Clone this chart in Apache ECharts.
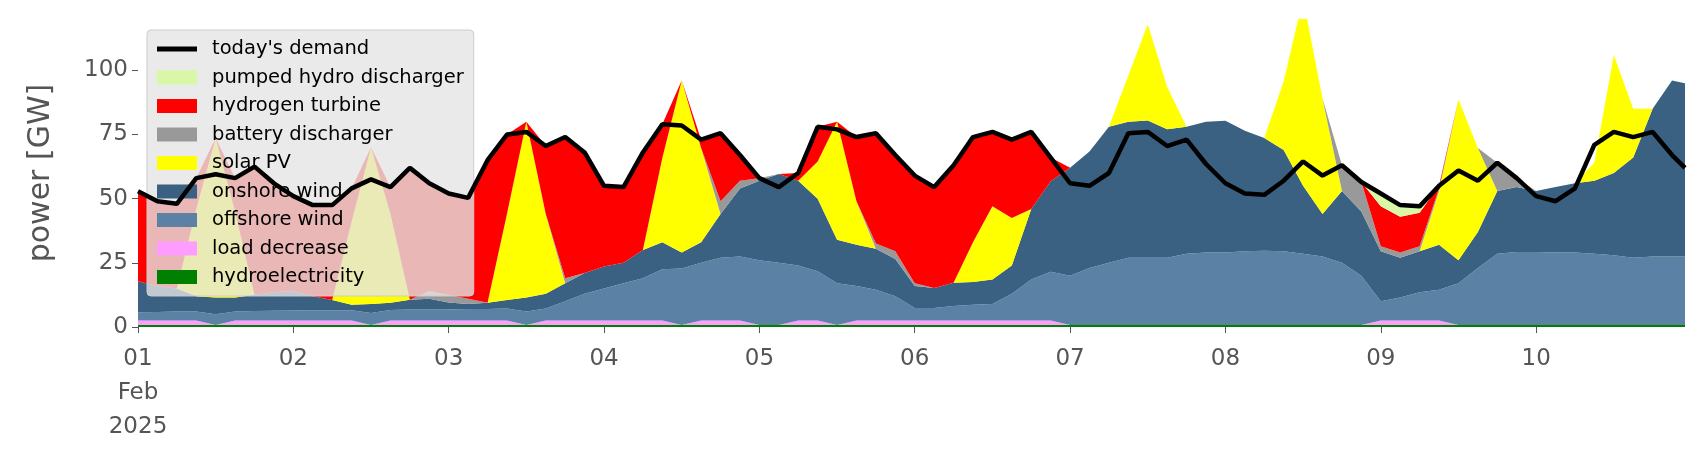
<!DOCTYPE html>
<html>
<head>
<meta charset="utf-8">
<script src="https://cdn.jsdelivr.net/npm/echarts@6/dist/echarts.min.js"></script>
<style>
  html, body { margin: 0; padding: 0; background: #fff; }
  #chart { width: 1706px; height: 460px; }
</style>
</head>
<body>
<div id="chart"></div>
<script>
// hourly category axis from 01 Feb 2025 00:00; data sampled every 3 h, last sample at 10 Feb 23:00
const hourCategories = [];
for (let h = 0; h < 240; h++) hourCategories.push(String(h));
const sampleHours = [];
for (let i = 0; i < 80; i++) sampleHours.push(i * 3);
sampleHours.push(239);

const dayLabels = ['01\nFeb\n2025', '02', '03', '04', '05', '06', '07', '08', '09', '10'];

// GW per technology
const hydro = [
  0.8,0.8,0.8,0.8,0.8,0.8,0.8,0.8, 0.8,0.8,0.8,0.8,0.8,0.8,0.8,0.8,
  0.8,0.8,0.8,0.8,0.8,0.8,0.8,0.8, 0.8,0.8,0.8,0.8,0.8,0.8,0.8,0.8,
  0.8,0.8,0.8,0.8,0.8,0.8,0.8,0.8, 0.8,0.8,0.8,0.8,0.8,0.8,0.8,0.8,
  0.8,0.8,0.8,0.8,0.8,0.8,0.8,0.8, 0.8,0.8,0.8,0.8,0.8,0.8,0.8,0.8,
  0.8,0.8,0.8,0.8,0.8,0.8,0.8,0.8, 0.8,0.8,0.8,0.8,0.8,0.8,0.8,0.8, 0.8
];
const loadDecrease = [
  1.7,1.7,1.7,1.7,0,1.7,1.7,1.7, 1.7,1.7,1.7,1.7,0,1.7,1.7,1.7,
  1.7,1.7,1.7,1.7,0,1.7,1.7,1.7, 1.7,1.7,1.7,1.7,0,1.7,1.7,1.7,
  0,0,1.7,1.7,0,1.7,1.7,1.7, 1.7,1.7,1.7,1.7,1.7,1.7,1.7,1.7,
  0,0,0,0,0,0,0,0, 0,0,0,0,0,0,0,0,
  1.7,1.7,1.7,1.7,0,0,0,0, 0,0,0,0,0,0,0,0, 0
];
const offshore = [
  3.2,3.3,3.5,3.5,4.2,3.5,3.7,3.8, 3.9,4.0,4.0,4.0,4.7,4.1,4.3,4.3,
  4.3,4.5,4.5,4.7,5.2,4.7,7.5,10.5, 12.5,14.5,16.5,20,22,22.5,24.5,25,
  25.2,24.2,21.5,19.2,16.2,13.5,12,9.5, 4.9,4.9,5.7,6.2,6.5,10.5,16,19,
  19.2,22.2,24.2,26.2,26.2,26.2,27.7,28.2, 28.2,28.7,28.9,28.7,27.7,26.7,24.2,19.2,
  7.5,9,11,12,16.2,22.2,27.7,28.4, 28.4,28.2,28.2,27.7,27.2,26.2,26.7,26.7, 26.7
];
const onshore = [
  12.1,10.2,9,6,6.5,5.5,6.4,7.2, 7.6,5.5,4,2.2,3.5,2.8,3.8,4.2,
  2.7,2,2.4,3.3,5.5,5.8,7,8, 8.6,8,11,10.5,6.2,8,17,26.5,
  31,34.6,33,28.3,17,16,16,14.5, 8.6,7.8,9,8.8,9.5,11,27.5,35.3,
  42,45.4,53,53,53.5,50,49.5,51, 51.4,47,43.9,39.5,26.5,16.5,28,25,
  19.5,15.5,16,17.5,9,14,24.5,25.3, 23.8,25.5,27,28.5,32,39,57.5,68.5, 67.5
];
const solar = [
  0,0,0,34,62.1,33.5,0,0, 0,0,0,32.3,61,34.6,0,0,
  0,0,0,33.5,68.5,31,0,0, 0,0,0,32.8,67,36.7,0,0,
  0,0,0,14.5,46,17,0,0, 0,0,0,15.5,28.5,18.5,0,0,
  0,0,0,18,37.5,16.5,0,0, 0,0,0,26.7,73,45,0,0,
  0,0,0,21,62.6,32.7,0,0, 0,0,0,7,46,19,0,0, 0
];
const battery = [
  0,0,0,0,0,0,0,0, 0,0,0,0,0,0,0,3,
  3,2,0,0,0,0,2,0, 0,0,0,0,0,0,5,3,
  1,0,0,0,0,0,2,3, 1,0,0,0,0,0,0,0,
  0,0,0,0,0,0,0,0, 0,0,0,0,0,0,10,11.5,
  2,2,2,1,0,0,11,3.5, 0,0,0,0,0,0,0,0, 0
];
const hydrogen = [
  35.1,33,33,12,0,13,49.9,42.5, 37,35.5,37,13,0,10.5,51.4,42,
  39.5,39.3,55.6,31,0,26.5,55,47, 31.4,29.5,38,13.2,0,3.3,26.5,10,
  0,0,3,13.5,0,25,43,37.5, 42,39.3,45.8,41,29,30.5,30,9.2,
  0,0,0,0,0,0,0,0, 0,0,0,0,0,0,0,0,
  15.5,14,13,1,0,0,0,0, 0,0,0,0,0,0,0,0, 0
];
const pumpedHydro = [
  0,0,0,0,0,0,0,0, 0,0,0,0,0,0,0,0,
  0,0,0,0,0,0,0,0, 0,0,0,0,0,0,0,0,
  0,0,0,0,0,0,0,0, 0,0,0,0,0,0,0,0,
  0,0,0,0,0,0,0,0, 0,0,0,0,0,0,0,0,
  5,4.5,2.5,0,0,0,0,0, 0,0,0,0,0,0,0,0, 0
];
const demand = [
  52.9,49,48,58,59.5,58,62.5,56, 51,47.5,47.5,54,57.5,54.5,62,56,
  52,50.3,65,75,76,70.5,74,68, 55,54.5,68,79,78.5,73,75.5,67,
  58,54.5,60,78,77,74,75.5,67, 59,54.5,63,74,76,73,76,66,
  56,55,60,75.5,76,70.5,73,63.5, 56,52,51.5,57,64.5,59,63,56.5,
  52,47.5,47,55,61,57,64,58, 51,49,54,71,76,74,76,67, 62
];

const stacked = [
  { name: 'hydroelectricity', data: hydro, color: '#008000' },
  { name: 'load decrease', data: loadDecrease, color: '#ff9cff' },
  { name: 'offshore wind', data: offshore, color: '#5b82a4' },
  { name: 'onshore wind', data: onshore, color: '#3b6182' },
  { name: 'solar PV', data: solar, color: '#ffff00' },
  { name: 'battery discharger', data: battery, color: '#999999' },
  { name: 'hydrogen turbine', data: hydrogen, color: '#ff0000' },
  { name: 'pumped hydro discharger', data: pumpedHydro, color: '#d8f8a8' }
];

const pair = arr => arr.map((v, i) => [sampleHours[i], v]);

const series = stacked.map(s => ({
  name: s.name,
  type: 'line',
  stack: 'total',
  data: pair(s.data),
  symbol: 'none',
  color: s.color,
  lineStyle: { width: 0 },
  areaStyle: { color: s.color, opacity: 1 },
  emphasis: { disabled: true }
}));
series.push({
  name: "today's demand",
  type: 'line',
  data: pair(demand),
  symbol: 'none',
  color: '#000',
  lineStyle: { color: '#000', width: 4.5 },
  z: 5
});

const font = 'DejaVu Sans';
const legendOrder = ["today's demand", 'pumped hydro discharger', 'hydrogen turbine',
  'battery discharger', 'solar PV', 'onshore wind', 'offshore wind', 'load decrease', 'hydroelectricity'];
const onDay = idx => idx % 24 === 0;

const chart = echarts.init(document.getElementById('chart'), null, { renderer: 'canvas' });
chart.setOption({
  animation: false,
  backgroundColor: '#fff',
  grid: { left: 138, right: 21, top: 19, bottom: 133 },
  legend: {
    orient: 'vertical',
    left: 147,
    top: 30,
    itemWidth: 40,
    itemHeight: 14,
    itemGap: 6.5,
    padding: [8, 10, 8, 10],
    backgroundColor: 'rgba(229,229,229,0.8)',
    borderColor: '#cccccc',
    borderWidth: 1,
    borderRadius: 4,
    textStyle: { fontFamily: font, fontSize: 19.5, lineHeight: 22, color: '#000', padding: [0, 0, 0, 10] },
    data: legendOrder.map(n => n === "today's demand"
      ? { name: n, icon: 'path://M0,0H40V5H0Z' }
      : { name: n, icon: 'rect' })
  },
  xAxis: {
    type: 'category',
    data: hourCategories,
    boundaryGap: false,
    axisLine: { show: false },
    axisTick: { show: true, length: 6, interval: onDay, lineStyle: { color: '#555' } },
    splitLine: { show: false },
    axisLabel: {
      interval: onDay,
      fontFamily: font, fontSize: 23, color: '#555', lineHeight: 34, margin: 15,
      formatter: v => dayLabels[Number(v) / 24] || ''
    }
  },
  yAxis: {
    type: 'value',
    min: 0,
    max: 120,
    interval: 25,
    name: 'power [GW]',
    nameLocation: 'middle',
    nameGap: 82,
    nameTextStyle: { fontFamily: font, fontSize: 30, color: '#555' },
    axisLine: { show: false },
    axisTick: { show: true, length: 6, lineStyle: { color: '#555' } },
    splitLine: { show: false },
    axisLabel: { fontFamily: font, fontSize: 23, color: '#555', showMaxLabel: false, margin: 10 }
  },
  series: series
});
</script>
</body>
</html>
